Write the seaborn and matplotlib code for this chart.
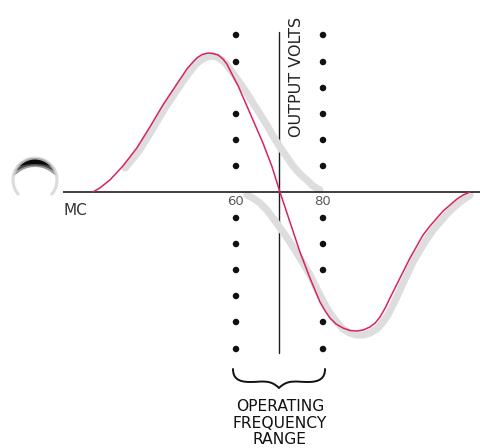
import numpy as np
import pandas as pd
import matplotlib
matplotlib.use("Agg")
import matplotlib.pyplot as plt
from matplotlib.path import Path
from matplotlib.patches import PathPatch
import seaborn as sns

sns.set_style("white")
plt.rcParams['font.family'] = ['DejaVu Sans']

# ---- data (frequency in MC, output in arbitrary volts) ----
red_mc = [27.1, 28.7, 31.0, 34.0, 37.2, 40.2, 43.2, 46.4, 47.8, 48.7, 49.9, 51.0, 52.2,
          53.6, 54.7, 55.9, 57.0, 57.9, 59.3, 60.5, 61.6, 63.9, 66.2, 68.3, 70.1,
          72.4, 74.7, 77.0, 79.3, 80.5, 81.6, 83.0, 84.6, 86.2, 87.8, 89.2, 90.8,
          92.0, 93.1, 94.3, 95.4, 97.7, 100.0, 103.0, 104.6, 106.2, 107.6, 109.2,
          110.8, 112.2, 113.8]
red_volts = [0, 4, 12, 26, 44, 65, 87, 108, 117, 123, 129, 134, 137.5,
             139, 138.5, 137, 133, 128, 116, 106, 95, 72, 49, 25, 0,
             -30, -60, -86, -110, -119, -126, -132, -136, -138.5, -139, -138, -135,
             -131, -125, -116, -106, -86, -66, -43, -34, -26, -19, -13,
             -7, -3, 0]

shadow_upper_mc = [34.5, 37.7, 40.7, 43.7, 46.9, 48.5, 49.7, 50.8, 52.0, 53.3, 54.5,
                   55.6, 56.8, 57.9, 59.3, 60.9, 62.5, 63.9, 65.5, 67.1, 68.5, 70.1,
                   71.7, 73.1, 74.7, 76.3, 77.7, 79.3]
shadow_upper_volts = [24, 41, 62, 84, 105, 115, 122, 128, 132, 135, 136,
                      135, 132, 127, 119, 109, 99, 89, 78, 67, 56, 45,
                      35, 26, 18, 12, 6, 2]
shadow_lower_mc = [62.5, 63.9, 65.5, 67.1, 68.5, 70.8, 72.4, 74.0, 75.4, 77.0, 78.6,
                   80.0, 81.6, 83.2, 84.6, 86.2, 87.8, 89.2, 90.8, 92.4, 93.8, 94.9,
                   96.1, 97.7, 99.3, 100.7, 102.3, 103.9, 105.3, 106.9, 108.5, 109.9,
                   111.5, 113.8]
shadow_lower_volts = [-3, -6, -11, -18, -26, -40, -50, -61, -71, -83, -97,
                      -109, -121, -130, -137, -141, -143, -143, -141, -137, -130, -123,
                      -113, -98, -83, -70, -58, -47, -38, -30, -22, -16,
                      -10, -3]

left_dots = [157, 130, 78, 52, 26, -26, -52, -78, -104, -130, -157]
right_dots = [157, 130, 104, 78, 52, 26, -26, -52, -78, -130, -157]

tick_values = [60, 80]
tick_labels = ["60", "80"]
unit_label = "MC"
y_label = "OUTPUT VOLTS"
range_label = "OPERATING\nFREQUENCY\nRANGE"

# ---- figure ----
W, H = 481, 448
fig = plt.figure(figsize=(W / 100, H / 100), dpi=100)
ax = fig.add_axes([0, 0, 1, 1])
PX_PER_MC = 4.35
x0 = 60 - 236 / PX_PER_MC
ax.set_xlim(x0, x0 + W / PX_PER_MC)
ax.set_ylim(192 - H, 192)
ax.axis('off')

# axes lines
ax.plot([x0 + 63 / PX_PER_MC, x0 + W / PX_PER_MC], [0, 0], color="#1e1e1e", lw=1.2, zorder=3,
        solid_capstyle='butt')
ax.plot([69.9, 69.9], [-161, 160], color="#1e1e1e", lw=1.0, zorder=1)

# gray shadow band
for sx, sy in [(shadow_upper_mc, shadow_upper_volts), (shadow_lower_mc, shadow_lower_volts)]:
    sns.lineplot(x=sx, y=sy, ax=ax, color="#dddddd", lw=5.2, sort=False, estimator=None,
                 zorder=2, solid_capstyle='round', solid_joinstyle='round')

# red response curve
sns.lineplot(x=red_mc, y=red_volts, ax=ax, color="#d8245c", lw=1.1, sort=False,
             estimator=None, zorder=4, solid_joinstyle='round')

# dotted boundaries
dots = pd.DataFrame({
    "mc": [60] * len(left_dots) + [80] * len(right_dots),
    "v": left_dots + right_dots,
})
sns.scatterplot(data=dots, x="mc", y="v", ax=ax, color="#111111", s=22,
                edgecolor="none", zorder=5, legend=False)

# texts
for tv, tl in zip(tick_values, tick_labels):
    ax.text(tv, -9, tl, ha='center', va='center', fontsize=9.5, color="#5a5a5a")
ax.text(x0 + 75 / PX_PER_MC, -18, unit_label, ha='center', va='center', fontsize=11, color="#333333")
ax.text(x0 + 297 / PX_PER_MC, 115, y_label, ha='center', va='center', rotation=90,
        fontsize=11.5, color="#222222")
ax.text(x0 + 280 / PX_PER_MC, 192 - 423, range_label, ha='center', va='center',
        fontsize=11.2, color="#111111", linespacing=1.12)

# overlay in pixel coordinates for decorations
ov = fig.add_axes([0, 0, 1, 1])
ov.set_xlim(0, W)
ov.set_ylim(H, 0)
ov.axis('off')
ov.patch.set_alpha(0)

# brace
verts = [(233, 369), (233, 378), (238, 382), (250, 382),
         (262, 382), (270, 379), (279, 388),
         (288, 379), (296, 382), (308, 382),
         (320, 382), (325, 378), (325, 369)]
codes = [Path.MOVETO] + [Path.CURVE4] * 12
ov.add_patch(PathPatch(Path(verts, codes), fill=False, lw=1.4, edgecolor="#111111",
                       capstyle='round', joinstyle='round'))

# shaded knob on left
cx, cy, r = 35, 180, 22
t = np.radians(np.linspace(-40, 220, 200))
ov.plot(cx + r * np.cos(t), cy - r * np.sin(t), color="#d2d2d2", lw=2.2, alpha=0.8)
for (a0, a1, th, col) in [(12, 168, 9, "#9a9a9a"), (25, 155, 7.5, "#4a4a4a"), (40, 140, 6, "#0a0a0a")]:
    tt = np.radians(np.linspace(a0, a1, 100))
    thick = th * np.sin(np.linspace(0, np.pi, 100)) ** 0.6
    ox, oy = cx + r * np.cos(tt), cy - r * np.sin(tt)
    ix, iy = cx + (r - thick) * np.cos(tt), cy - (r - thick) * np.sin(tt)
    ov.fill(np.concatenate([ox, ix[::-1]]), np.concatenate([oy, iy[::-1]]), color=col, lw=0)

fig.savefig("out.png", dpi=100)
